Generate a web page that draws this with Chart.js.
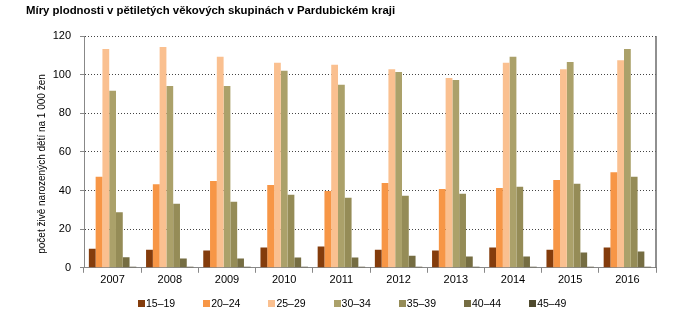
<!DOCTYPE html>
<html>
<head>
<meta charset="utf-8">
<script src="https://cdn.jsdelivr.net/npm/chart.js@4/dist/chart.umd.min.js"></script>
<style>
  html, body { margin: 0; padding: 0; background: #fff; }
  #wrap { position: relative; width: 698px; height: 325px; }
  #title { position: absolute; left: 26px; top: 4px; font: bold 11.4px "Liberation Sans", Arial, sans-serif; color: #000; white-space: pre; }
  canvas { position: absolute; left: 0; top: 0; }
  #legend { position: absolute; left: 0; top: 296px; width: 698px; height: 14px; font: 10.5px "Liberation Sans", Arial, sans-serif; color: #000; }
  .li { position: absolute; top: 0; height: 14px; line-height: 14px; white-space: nowrap; }
  .li i { display: inline-block; width: 7px; height: 7px; margin-right: 1px; vertical-align: 0px; }
</style>
</head>
<body>
<div id="wrap">
  <canvas id="c" width="698" height="325"></canvas>
  <div id="title">Míry plodnosti v pětiletých věkových skupinách v Pardubickém kraji</div>
  <div id="legend"></div>
</div>
<script>
const years = ['2007','2008','2009','2010','2011','2012','2013','2014','2015','2016'];
const seriesNames = ['15–19','20–24','25–29','30–34','35–39','40–44','45–49'];
const age15_19 = [9.8, 9.4, 8.9, 10.5, 11.0, 9.4, 8.9, 10.5, 9.4, 10.5];
const age20_24 = [47.1, 43.3, 44.9, 42.8, 39.7, 43.9, 40.8, 41.3, 45.4, 49.5];
const age25_29 = [113.3, 114.3, 109.2, 106.1, 105.1, 102.8, 98.2, 106.1, 102.8, 107.5];
const age30_34 = [91.6, 94.1, 94.1, 102.0, 94.7, 101.3, 97.2, 109.2, 106.6, 113.3];
const age35_39 = [28.8, 33.2, 34.2, 37.8, 36.3, 37.3, 38.3, 41.9, 43.5, 47.1];
const age40_44 = [5.5, 4.8, 4.8, 5.3, 5.3, 6.3, 5.8, 5.8, 7.9, 8.4];
const age45_49 = [0.5, 0.6, 0.5, 0.5, 0.6, 0.6, 0.5, 0.5, 0.5, 0.6];
const yTicks = [0, 20, 40, 60, 80, 100, 120];
const yTitle = 'počet živě narozených dětí na 1 000 žen';

const seriesValues = [age15_19, age20_24, age25_29, age30_34, age35_39, age40_44, age45_49];
const colors = ['#843C0C', '#F79646', '#FAC090', '#ABA16A', '#958C57', '#756D42', '#4F4A2E'];

const FONT = '"Liberation Sans", Arial, sans-serif';

const legendEl = document.getElementById('legend');
seriesNames.forEach((n, i) => {
  const d = document.createElement('div');
  d.className = 'li';
  d.style.left = (138 + 65.2 * i) + 'px';
  const b = document.createElement('i');
  b.style.background = colors[i];
  d.appendChild(b);
  d.appendChild(document.createTextNode(n));
  legendEl.appendChild(d);
});

const extras = {
  id: 'extras',
  afterDraw(chart) {
    const {ctx, chartArea} = chart;
    ctx.save();
    ctx.strokeStyle = '#6b6b6b';
    ctx.lineWidth = 1.5;
    ctx.beginPath();
    ctx.moveTo(chartArea.right, chartArea.top);
    ctx.lineTo(chartArea.right, chartArea.bottom);
    ctx.stroke();
    ctx.translate(42, 164);
    ctx.rotate(-Math.PI / 2);
    ctx.fillStyle = '#000';
    ctx.font = '10px ' + FONT;
    ctx.textAlign = 'center';
    ctx.textBaseline = 'middle';
    ctx.fillText(yTitle, 0, 0);
    ctx.restore();
  }
};

new Chart(document.getElementById('c'), {
  type: 'bar',
  data: {
    labels: years,
    datasets: seriesNames.map((n, i) => ({
      label: n,
      data: seriesValues[i],
      backgroundColor: colors[i],
      borderWidth: 0,
      categoryPercentage: 0.83,
      barPercentage: 1.0
    }))
  },
  options: {
    responsive: false,
    animation: false,
    layout: { padding: { left: 0, right: 42, top: 36, bottom: 37 } },
    plugins: {
      title: { display: false },
      tooltip: { enabled: false },
      legend: { display: false }
    },
    scales: {
      x: {
        grid: { display: true, drawOnChartArea: false, drawTicks: true, tickLength: 5, color: '#888', tickColor: '#888', offset: true },
        border: { display: true, color: '#888', width: 1 },
        ticks: { color: '#000', font: { family: FONT, size: 11 }, padding: 1, maxRotation: 0 }
      },
      y: {
        min: 0, max: 120,
        afterFit(scale) { scale.width = 84; },
        afterBuildTicks(scale) { scale.ticks = yTicks.map(v => ({value: v})); },
        grid: { color: '#444', lineWidth: 1, tickLength: 4, tickColor: '#888', tickBorderDash: [] },
        border: { display: true, color: '#888', width: 1, dash: [1, 2] },
        ticks: { color: '#000', font: { family: FONT, size: 11 }, padding: 9 }
      }
    }
  },
  plugins: [extras]
});
</script>
</body>
</html>
